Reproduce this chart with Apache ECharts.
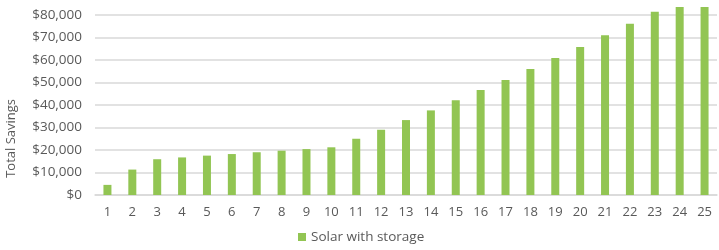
<!DOCTYPE html>
<html>
<head>
<meta charset="utf-8">
<script src="https://cdn.jsdelivr.net/npm/echarts@6/dist/echarts.min.js"></script>
<style>
html, body { margin: 0; padding: 0; background: #fff; }
#chart { width: 719px; height: 250px; }
</style>
</head>
<body>
<div id="chart"></div>
<script>
// 年份 / 累计节省
var years = ['1','2','3','4','5','6','7','8','9','10','11','12','13','14','15','16','17','18','19','20','21','22','23','24','25'];
var savings = [4500, 11300, 15900, 16700, 17500, 18200, 19000, 19700, 20400, 21200, 25000, 29000, 33300, 37600, 42100, 46700, 51100, 56000, 60900, 65800, 71000, 76100, 81500, 83600, 83600];
var seriesName = 'Solar with storage';
var axisTitle = 'Total Savings';

var chart = echarts.init(document.getElementById('chart'));
var fontFamily = '"Open Sans", sans-serif';
chart.setOption({
    animation: false,
    textStyle: { fontFamily: fontFamily },
    grid: {
        left: 95,
        right: 2,
        top: 15,
        bottom: 55
    },
    legend: {
        data: [seriesName],
        bottom: 1,
        left: 293,
        itemWidth: 8,
        itemHeight: 8,
        itemGap: 5,
        icon: 'rect',
        textStyle: { color: '#595959', fontSize: 13.5, fontFamily: fontFamily }
    },
    graphic: [{
        type: 'text',
        left: 5,
        top: 99,
        rotation: Math.PI / 2,
        style: {
            text: axisTitle,
            fill: '#595959',
            font: '13px ' + fontFamily
        }
    }],
    xAxis: {
        type: 'category',
        data: years,
        axisTick: { show: false },
        axisLine: { lineStyle: { color: '#d9d9d9', width: 1.5 } },
        axisLabel: { color: '#595959', fontSize: 13, margin: 11 }
    },
    yAxis: {
        type: 'value',
        min: 0,
        max: 80000,
        interval: 10000,
        axisLine: { show: false },
        axisTick: { show: false },
        splitLine: { lineStyle: { color: '#d9d9d9', width: 1.5 } },
        axisLabel: {
            color: '#595959',
            fontSize: 13.5,
            margin: 13,
            formatter: function (v) {
                return '$' + v.toLocaleString('en-US');
            }
        }
    },
    series: [{
        name: seriesName,
        type: 'bar',
        data: savings,
        barWidth: 8,
        clip: false,
        itemStyle: { color: '#92c553' }
    }]
});
</script>
</body>
</html>
